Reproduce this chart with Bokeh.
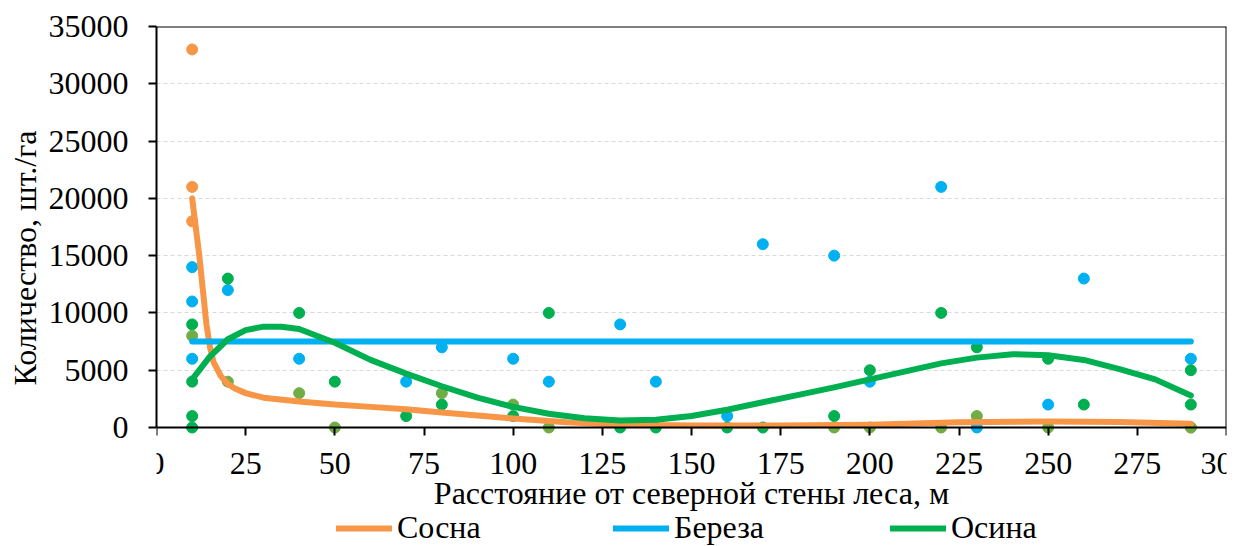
from bokeh.plotting import figure
from bokeh.models import Legend, LegendItem, Range1d, FixedTicker, Title, LinearAxis
from bokeh.embed import file_html
from bokeh.resources import INLINE

# --- data ---
pine_x = [10, 10, 10, 290]
pine_y = [33000, 21000, 18000, 0]

birch_x = [10, 10, 10, 20, 40, 70, 80, 100, 110, 130, 140, 160, 170, 190, 200, 220, 230, 250, 260, 290]
birch_y = [14000, 11000, 6000, 12000, 6000, 4000, 7000, 6000, 4000, 9000, 4000, 1000, 16000, 15000, 4000,
           21000, 0, 2000, 13000, 6000]

aspen_x = [10, 10, 10, 10, 20, 40, 50, 70, 80, 100, 110, 130, 140, 160, 170, 190, 200, 220, 230, 250, 260, 290, 290]
aspen_y = [9000, 4000, 1000, 0, 13000, 10000, 4000, 1000, 2000, 1000, 10000, 0, 0, 0, 0, 1000, 5000, 10000,
           7000, 6000, 2000, 5000, 2000]

other_x = [10, 20, 40, 50, 80, 100, 110, 190, 200, 220, 230, 250, 290]
other_y = [8000, 4000, 3000, 0, 3000, 2000, 0, 0, 0, 0, 1000, 0, 0]

# trend curves
pine_trend_x = [10, 11, 12, 13, 14, 15, 16, 18, 20, 22, 25, 30, 40, 50, 60, 70, 80, 90, 100, 115, 130, 150,
                175, 200, 225, 250, 270, 290]
pine_trend_y = [20000, 17500, 15000, 12000, 9000, 7000, 5700, 4500, 3800, 3400, 3000, 2600, 2270, 2000, 1800,
                1600, 1300, 1050, 780, 450, 250, 170, 170, 250, 450, 520, 480, 320]

birch_trend_x = [10, 290]
birch_trend_y = [7500, 7500]

aspen_trend_x = [10, 15, 20, 25, 30, 35, 40, 50, 60, 70, 80, 90, 100, 110, 120, 130, 140, 150, 160, 170, 180,
                 190, 200, 210, 220, 230, 240, 250, 260, 270, 280, 290]
aspen_trend_y = [4200, 6200, 7700, 8500, 8800, 8800, 8600, 7400, 5900, 4700, 3600, 2600, 1800, 1200, 800, 620,
                 680, 1000, 1550, 2200, 2850, 3500, 4200, 4900, 5600, 6100, 6400, 6300, 5900, 5100, 4200, 2800]

x_ticks = [0, 25, 50, 75, 100, 125, 150, 175, 200, 225, 250, 275, 300]
y_ticks = [0, 5000, 10000, 15000, 20000, 25000, 30000, 35000]

x_title = "Расстояние от северной стены леса, м"
y_title = "Количество, шт./га"
legend_labels = ["Сосна", "Береза", "Осина"]

X_MIN, X_MAX = 0, 300
Y_MIN, Y_MAX = 0, 35000

ORANGE = "#F79646"
BLUE = "#00B0F0"
GREEN = "#00B050"
OLIVE = "#70AD47"
FONT = "Liberation Serif"
FS = "32px"

# layout (pixels)
W, H = 1248, 546
PLOT_L, PLOT_R, PLOT_T, PLOT_B = 156, 1226, 26, 427
y_per_px = (Y_MAX - Y_MIN) / (PLOT_B - PLOT_T)

# frame spans the plot area horizontally and reaches the bottom of the canvas,
# so that the legend below the plot is not clipped
p = figure(width=W, height=H, output_backend="svg", toolbar_location=None,
           x_range=Range1d(X_MIN, X_MAX),
           y_range=Range1d(Y_MIN - (H - PLOT_B) * y_per_px, Y_MAX),
           min_border_left=PLOT_L, min_border_right=W - PLOT_R,
           min_border_top=PLOT_T, min_border_bottom=0)

p.background_fill_color = "white"
p.border_fill_color = "white"
p.outline_line_color = None

p.xgrid.visible = False
p.ygrid.grid_line_color = "#D9D9D9"
p.ygrid.grid_line_dash = "4 3"
p.ygrid.grid_line_width = 1

def style_axis(ax):
    ax.axis_line_color = "black"
    ax.axis_line_width = 2
    ax.major_tick_line_color = "black"
    ax.major_tick_line_width = 2
    ax.major_tick_out = 8
    ax.major_tick_in = 0
    ax.minor_tick_line_color = None
    ax.major_label_text_font = FONT
    ax.major_label_text_font_size = FS
    ax.major_label_text_color = "black"
    ax.axis_label_text_font = FONT
    ax.axis_label_text_font_size = FS
    ax.axis_label_text_font_style = "normal"
    ax.axis_label_text_color = "black"

# y axis (left edge of the plot area)
yax = p.yaxis[0]
style_axis(yax)
yax.ticker = FixedTicker(ticks=y_ticks)
yax.bounds = (Y_MIN, Y_MAX)
yax.major_label_standoff = 20
p.ygrid.ticker = FixedTicker(ticks=y_ticks)

ytitle = Title(text=y_title, align="left", offset=161, standoff=6,
               text_font=FONT, text_font_size=FS, text_font_style="normal", text_color="black")
p.add_layout(ytitle, "left")

# x axis placed at y = 0
xax = p.xaxis[0]
style_axis(xax)
xax.ticker = FixedTicker(ticks=x_ticks)
xax.fixed_location = Y_MIN
xax.bounds = (X_MIN, X_MAX)
xax.axis_label = x_title
xax.major_label_standoff = 17
xax.axis_label_standoff = -2

# top and right border lines of the plot area
top_ax = LinearAxis(ticker=FixedTicker(ticks=[]), fixed_location=Y_MAX, bounds=(X_MIN, X_MAX),
                    axis_line_color="black", axis_line_width=2, major_tick_line_color=None,
                    minor_tick_line_color=None)
p.add_layout(top_ax, "above")
right_ax = LinearAxis(ticker=FixedTicker(ticks=[]), fixed_location=X_MAX, bounds=(Y_MIN, Y_MAX),
                      axis_line_color="black", axis_line_width=2, major_tick_line_color=None,
                      minor_tick_line_color=None)
p.add_layout(right_ax, "right")

# points
p.scatter(pine_x, pine_y, size=11, color=ORANGE)
p.scatter(birch_x, birch_y, size=11, color=BLUE)
p.scatter(aspen_x, aspen_y, size=11, color=GREEN)
p.scatter(other_x, other_y, size=11, color=OLIVE)

# trend curves
r_pine = p.line(pine_trend_x, pine_trend_y, line_color=ORANGE, line_width=6, line_cap="round", line_join="round")
r_birch = p.line(birch_trend_x, birch_trend_y, line_color=BLUE, line_width=6, line_cap="round")
r_aspen = p.line(aspen_trend_x, aspen_trend_y, line_color=GREEN, line_width=6, line_cap="round", line_join="round")

legend = Legend(items=[LegendItem(label=legend_labels[0], renderers=[r_pine]),
                       LegendItem(label=legend_labels[1], renderers=[r_birch]),
                       LegendItem(label=legend_labels[2], renderers=[r_aspen])],
                orientation="horizontal", location=(336 - PLOT_L, 0))
legend.label_text_font = FONT
legend.label_text_font_size = FS
legend.label_text_color = "black"
legend.glyph_width = 56
legend.glyph_height = 20
legend.label_height = 20
legend.label_standoff = 5
legend.label_width = 95
legend.spacing = 121
legend.padding = 0
legend.margin = 0
legend.border_line_color = None
legend.background_fill_alpha = 0
p.add_layout(legend, "center")

open("out.html", "w").write(file_html(p, INLINE))
